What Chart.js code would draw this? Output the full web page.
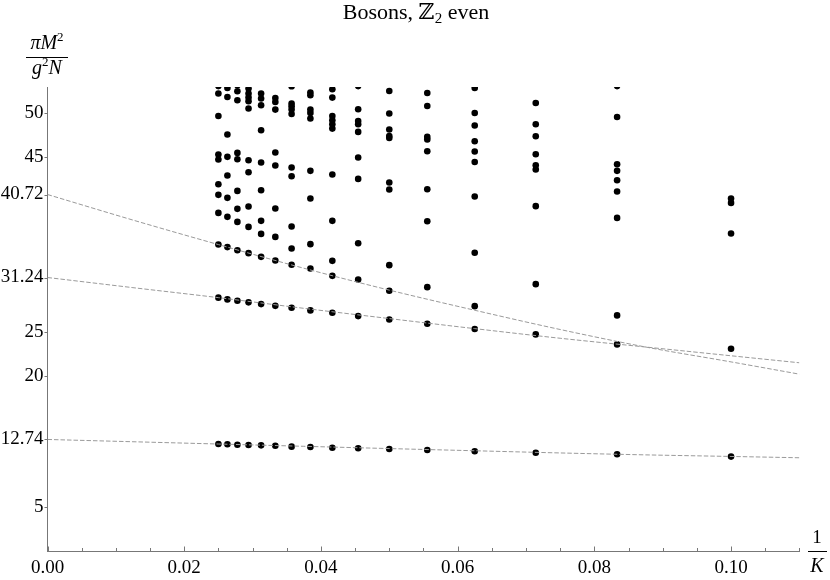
<!DOCTYPE html>
<html>
<head>
<meta charset="utf-8">
<title>Bosons, Z2 even</title>
<script src="https://cdn.jsdelivr.net/npm/chart.js@4.4.1/dist/chart.umd.min.js"></script>
<style>
  html, body { margin: 0; padding: 0; background: #fff; }
  #wrap { width: 830px; height: 580px; }
</style>
</head>
<body>
<div id="wrap"><canvas id="spectrum" width="830" height="580"></canvas></div>
<script>
// 1/K for K = 40, 38, ..., 12, 10
const invK = [0.025, 0.02632, 0.02778, 0.02941, 0.03125, 0.03333, 0.03571, 0.03846,
              0.04167, 0.04545, 0.05, 0.05556, 0.0625, 0.07143, 0.08333, 0.1];

// pi M^2 / (g^2 N) for each K
const k40 = [12.22, 28.94, 35.01, 38.62, 40.68, 41.9, 44.72, 45.29, 49.69, 52.25, 53.1];
const k38 = [12.19, 28.74, 34.71, 38.17, 40.34, 42.89, 45.02, 47.57, 51.86, 52.89];
const k36 = [12.14, 28.58, 34.36, 37.59, 39.08, 41.13, 44.75, 45.47, 51.48, 52.51, 53.2];
const k34 = [12.11, 28.4, 34.02, 37.02, 39.35, 43.27, 44.64, 50.54, 51.37, 51.79, 52.25, 52.82];
const k32 = [12.07, 28.2, 33.6, 36.22, 37.71, 41.21, 44.37, 48.06, 50.91, 51.68, 52.25];
const k30 = [12.03, 28.0, 33.19, 35.88, 39.12, 44.03, 45.51, 50.42, 51.29, 51.75];
const k28 = [11.92, 27.78, 32.69, 34.56, 37.07, 42.81, 43.8, 49.92, 50.42, 50.8, 51.11, 53.08];
const k26 = [11.88, 27.48, 32.27, 35.05, 40.26, 43.42, 49.4, 50.04, 50.42, 52.05, 52.36];
const k24 = [11.8, 27.21, 31.43, 33.14, 37.71, 43.0, 48.25, 48.74, 49.2, 49.69, 51.79, 52.74];
const k22 = [11.73, 26.83, 31.02, 35.16, 42.5, 44.94, 47.87, 48.74, 49.12, 50.46, 53.1];
const k20 = [11.65, 26.45, 29.72, 32.65, 41.29, 42.09, 47.18, 47.41, 48.14, 49.97, 52.55];
const k18 = [11.54, 25.95, 30.14, 37.67, 41.32, 45.66, 47.0, 47.3, 50.83, 52.32];
const k16 = [11.39, 25.35, 27.97, 34.06, 40.49, 44.44, 45.63, 46.8, 48.6, 50.03, 52.89];
const k14 = [11.23, 24.74, 30.48, 39.39, 43.57, 44.07, 45.32, 47.37, 48.74, 51.18];
const k12 = [11.05, 23.6, 26.91, 38.05, 41.06, 42.35, 43.42, 44.18, 49.58, 53.1];
const k10 = [10.78, 23.1, 36.27, 39.76, 40.26];
const spectrum = [k40, k38, k36, k34, k32, k30, k28, k26, k24, k22, k20, k18, k16, k14, k12, k10];

// dashed extrapolations to 1/K -> 0
const fitX      = [0, 0.0125, 0.025, 0.0375, 0.05, 0.0625, 0.075, 0.0875, 0.1, 0.11];
const fitLowest = [12.74, 12.48, 12.22, 11.96, 11.7, 11.45, 11.2, 10.98, 10.8, 10.65];
const fitSecond = [31.24, 30.08, 28.94, 27.72, 26.55, 25.4, 24.3, 23.3, 22.3, 21.5];
const fitThird  = [40.72, 37.8, 35.0, 32.3, 29.8, 27.5, 25.3, 23.3, 21.6, 20.2];

const yTicks = [5, 12.74, 20, 25, 31.24, 40.72, 45, 50];

const serif = '"Liberation Serif", "DejaVu Serif", serif';
const axisColor = '#777';

const points = [];
spectrum.forEach((col, i) => col.forEach(v => points.push({ x: invK[i], y: v })));

function fitLine(ys) {
  return {
    type: 'line',
    data: fitX.map((x, i) => ({ x: x, y: ys[i] })),
    borderColor: '#9a9a9a',
    borderWidth: 1,
    borderDash: [4.5, 2],
    pointRadius: 0,
    fill: false,
    cubicInterpolationMode: 'monotone'
  };
}

// draws text runs (font, text, dy) centred on x
function runs(ctx, parts, cx, baseY) {
  let w = 0;
  parts.forEach(p => { ctx.font = p[0]; w += ctx.measureText(p[1]).width; });
  let x = cx - w / 2;
  parts.forEach(p => {
    ctx.font = p[0];
    ctx.fillText(p[1], x, baseY + (p[2] || 0));
    x += ctx.measureText(p[1]).width;
  });
}

const decorations = {
  id: 'decorations',
  afterDraw(chart) {
    const ctx = chart.ctx;
    const a = chart.chartArea;
    const xs = chart.scales.x, ys = chart.scales.y;
    ctx.save();
    ctx.strokeStyle = axisColor;
    ctx.lineWidth = 1;
    ctx.beginPath();
    ys.ticks.forEach(t => {
      const py = Math.round(ys.getPixelForValue(t.value)) + 0.5;
      ctx.moveTo(a.left - 3, py); ctx.lineTo(a.left, py);
    });
    xs.ticks.forEach(t => {
      const px = Math.round(xs.getPixelForValue(t.value)) + 0.5;
      const major = Math.abs(t.value / 0.02 - Math.round(t.value / 0.02)) < 1e-6;
      ctx.moveTo(px, a.bottom); ctx.lineTo(px, a.bottom - (major ? 4.5 : 3));
    });
    ctx.stroke();

    ctx.fillStyle = '#000';
    ctx.textBaseline = 'alphabetic';
    const up = '19px ' + serif, it = 'italic 20px ' + serif, sm = '13px ' + serif;
    const big = '22px ' + serif, bigSub = '15px ' + serif;
    // title
    runs(ctx, [[big, 'Bosons, '], [big, '\u2124'], [bigSub, '2', 4], [big, ' even']], 416, 19);
    // y label
    runs(ctx, [[it, '\u03c0M'], [sm, '2', -8]], 47, 49);
    runs(ctx, [[it, 'g'], [sm, '2', -8], [it, 'N']], 47, 74);
    // x label
    runs(ctx, [[up, '1']], 817, 543);
    runs(ctx, [[it, 'K']], 817, 572);
    ctx.strokeStyle = '#000';
    ctx.beginPath();
    ctx.moveTo(26, 57.5); ctx.lineTo(68, 57.5);
    ctx.moveTo(808, 551.5); ctx.lineTo(827, 551.5);
    ctx.stroke();
    ctx.restore();
  }
};

new Chart(document.getElementById('spectrum'), {
  type: 'scatter',
  data: {
    datasets: [
      fitLine(fitLowest),
      fitLine(fitSecond),
      fitLine(fitThird),
      {
        data: points,
        pointRadius: 3.3,
        pointBackgroundColor: '#000',
        pointBorderWidth: 0,
        showLine: false
      }
    ]
  },
  options: {
    responsive: false,
    animation: false,
    layout: { padding: { top: 87, right: 30.6, left: 0, bottom: 0 } },
    plugins: { legend: { display: false }, tooltip: { enabled: false }, title: { display: false } },
    scales: {
      x: {
        type: 'linear', min: 0, max: 0.11,
        afterFit: s => { s.height = 29; },
        grid: { display: false, drawTicks: false },
        border: { display: true, color: axisColor, width: 1 },
        ticks: {
          stepSize: 0.005, autoSkip: false, maxRotation: 0, padding: 6,
          color: '#000', font: { family: serif, size: 19 },
          callback: v => Math.abs(v / 0.02 - Math.round(v / 0.02)) < 1e-6 ? v.toFixed(2) : ''
        }
      },
      y: {
        type: 'linear', min: 0, max: 53,
        afterFit: s => { s.width = 47.5; },
        afterBuildTicks: s => { s.ticks = yTicks.map(v => ({ value: v })); },
        grid: { display: false, drawTicks: false },
        border: { display: true, color: axisColor, width: 1 },
        ticks: {
          autoSkip: false, padding: 4,
          color: '#000', font: { family: serif, size: 19 },
          callback: v => String(v)
        }
      }
    }
  },
  plugins: [decorations]
});
</script>
</body>
</html>
